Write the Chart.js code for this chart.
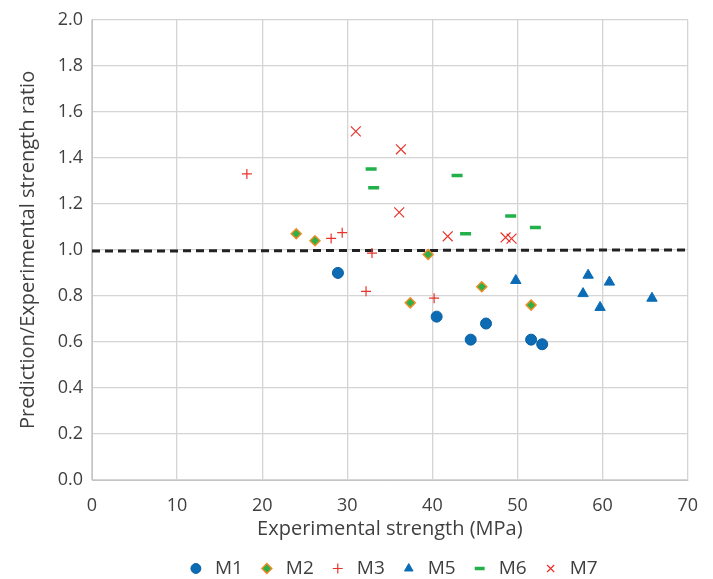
<!doctype html>
<html>
<head>
    <title>Prediction / Experimental strength</title>
    <script src="https://cdnjs.cloudflare.com/ajax/libs/Chart.js/4.4.1/chart.umd.min.js"></script>
    <style>
        body { margin: 0; background: #fff; }
        .wrap { width: 713px; height: 579px; }
    </style>
</head>
<body>
    <div class="wrap"><canvas id="canvas" width="713" height="579"></canvas></div>
    <script>
        // values
        const m1X = [28.9, 40.5, 44.5, 46.3, 51.6, 52.9];
        const m1Y = [0.90, 0.71, 0.61, 0.68, 0.61, 0.59];
        const m2X = [24.0, 26.2, 37.4, 39.5, 45.8, 51.6];
        const m2Y = [1.07, 1.04, 0.77, 0.98, 0.84, 0.76];
        const m3X = [18.2, 28.1, 29.4, 32.9, 32.2, 40.2];
        const m3Y = [1.33, 1.05, 1.075, 0.986, 0.82, 0.79];
        const m5X = [49.8, 58.3, 60.8, 57.7, 59.7, 65.8];
        const m5Y = [0.867, 0.89, 0.86, 0.81, 0.75, 0.79];
        const m6X = [32.8, 33.1, 42.9, 43.9, 49.2, 52.1];
        const m6Y = [1.352, 1.27, 1.323, 1.07, 1.147, 1.097];
        const m7X = [31.0, 36.3, 36.1, 41.8, 48.6, 49.3];
        const m7Y = [1.515, 1.437, 1.163, 1.059, 1.054, 1.049];
        const refX = [0, 70];
        const refY = [0.995, 1.0];

        const pts = (xs, ys) => xs.map((x, i) => ({ x: x, y: ys[i] }));
        const textColor = '#3f3f3f';
        const font = "'Open Sans', 'Noto Sans', sans-serif";

        // legend sits centred under the plot area and a bit lower than chart.js puts it
        const legendShift = {
            id: 'legendShift',
            afterLayout(chart) {
                const lg = chart.legend;
                lg.left += 40;
                lg.right += 40;
                lg.top += 9;
                lg.bottom += 9;
            }
        };

        const ctx = document.getElementById('canvas').getContext('2d');
        new Chart(ctx, {
            type: 'scatter',
            plugins: [legendShift],
            data: {
                datasets: [{
                    label: 'M1',
                    data: pts(m1X, m1Y),
                    pointStyle: 'circle',
                    pointRadius: 5.5,
                    backgroundColor: '#0b6cb5',
                    borderColor: '#0a5d9e',
                    borderWidth: 1
                }, {
                    label: 'M2',
                    data: pts(m2X, m2Y),
                    pointStyle: 'rectRot',
                    pointRadius: 5,
                    backgroundColor: '#2bb04a',
                    borderColor: '#f08a24',
                    borderWidth: 1.5
                }, {
                    label: 'M3',
                    data: pts(m3X, m3Y),
                    pointStyle: 'cross',
                    pointRadius: 5,
                    backgroundColor: '#e8332a',
                    borderColor: '#e8332a',
                    borderWidth: 1.2
                }, {
                    label: 'M5',
                    data: pts(m5X, m5Y),
                    pointStyle: 'triangle',
                    pointRadius: 6,
                    backgroundColor: '#0b6cb5',
                    borderColor: '#0b6cb5',
                    borderWidth: 1
                }, {
                    label: 'M6',
                    data: pts(m6X, m6Y),
                    pointStyle: 'line',
                    pointRadius: 5.5,
                    backgroundColor: '#22b04b',
                    borderColor: '#22b04b',
                    borderWidth: 3.5
                }, {
                    label: 'M7',
                    data: pts(m7X, m7Y),
                    pointStyle: 'crossRot',
                    pointRadius: 7,
                    backgroundColor: '#e8332a',
                    borderColor: '#e8332a',
                    borderWidth: 1.2
                }, {
                    label: 'ref',
                    type: 'line',
                    data: pts(refX, refY),
                    borderColor: '#222',
                    borderWidth: 3,
                    borderDash: [8, 5],
                    pointRadius: 0,
                    fill: false
                }]
            },
            options: {
                responsive: false,
                animation: false,
                layout: { padding: { top: 10, right: 25, left: 16, bottom: 0 } },
                plugins: {
                    legend: {
                        position: 'bottom',
                        labels: {
                            usePointStyle: true,
                            boxWidth: 33,
                            boxHeight: 7,
                            padding: 14.5,
                            color: textColor,
                            font: { family: font, size: 19 },
                            filter: item => item.text !== 'ref'
                        }
                    },
                    tooltip: { enabled: false }
                },
                scales: {
                    x: {
                        type: 'linear',
                        min: 0,
                        max: 70,
                        afterFit: s => { s.height = 55.5; },
                        ticks: { stepSize: 10, padding: 15, color: textColor, font: { family: font, size: 18 } },
                        grid: { color: '#d4d4d4', lineWidth: 1.3, drawTicks: false },
                        border: { color: '#c4c4c4' },
                        title: { display: true, text: 'Experimental strength (MPa)', color: textColor, font: { family: font, size: 20 }, padding: { top: 0, bottom: -6 } }
                    },
                    y: {
                        min: 0,
                        max: 2,
                        afterFit: s => { s.width = 76; },
                        ticks: { stepSize: 0.2, padding: 9, color: textColor, font: { family: font, size: 18 }, callback: v => v.toFixed(1) },
                        grid: { color: '#d4d4d4', lineWidth: 1.3, drawTicks: false },
                        border: { color: '#c4c4c4' },
                        title: { display: true, text: 'Prediction/Experimental strength ratio', color: textColor, font: { family: font, size: 20 }, padding: 0 }
                    }
                }
            }
        });
    </script>
</body>
</html>
